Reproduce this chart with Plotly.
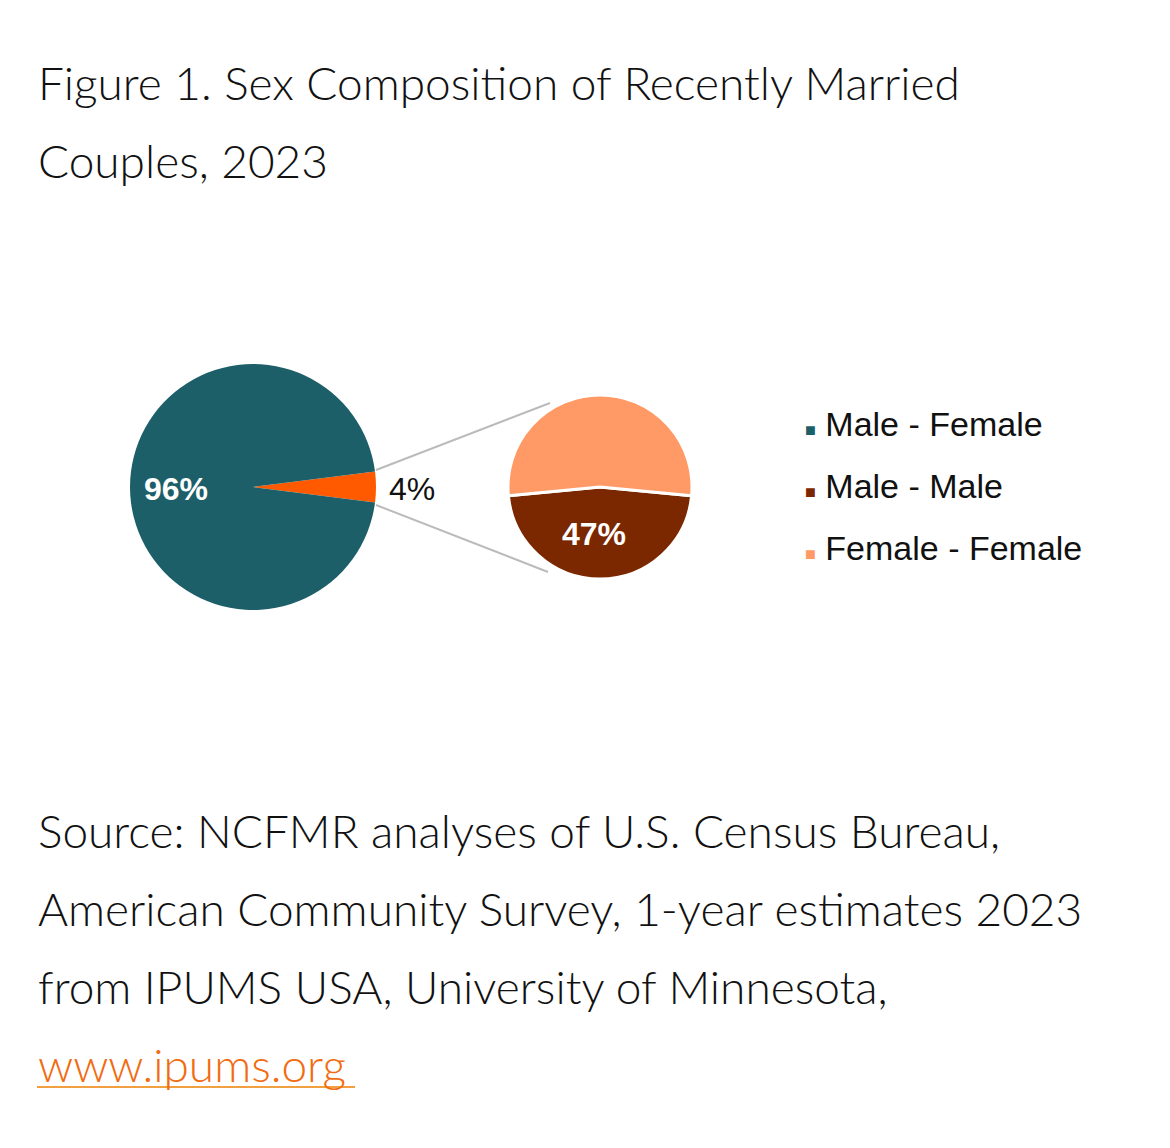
import plotly.graph_objects as go

main_labels = ["Same-sex", "Male - Female"]
main_values = [4, 96]
main_colors = ["#FF5A00", "#1D5F69"]

sub_labels = ["Male - Male", "Female - Female"]
sub_values = [47, 53]
sub_colors = ["#7B2800", "#FF9966"]

legend_labels = ["Male - Female", "Male - Male", "Female - Female"]
legend_colors = ["#1D5F69", "#7B2800", "#FF9966"]

title_lines = ["Figure 1. Sex Composition of Recently Married", "Couples, 2023"]
source_lines = ["Source: NCFMR analyses of U.S. Census Bureau,",
                "American Community Survey, 1-year estimates 2023",
                "from IPUMS USA, University of Minnesota,"]
link_text = "www.ipums.org"

W, H = 1170, 1148
# page has an 8px body margin, so shift everything back
def px(x): return (x - 8) / W
def py(y): return 1 - (y - 8) / H

fig = go.Figure()
fig.add_trace(go.Pie(labels=main_labels, values=main_values, sort=False,
                     direction="clockwise", rotation=90 - main_values[0] * 1.8,
                     marker=dict(colors=main_colors), textinfo="none", hoverinfo="label+percent",
                     domain=dict(x=[px(130), px(376)], y=[py(610), py(364)]), showlegend=False))
fig.add_trace(go.Pie(labels=sub_labels, values=sub_values, sort=False,
                     direction="clockwise", rotation=180 - sub_values[0] * 1.8,
                     marker=dict(colors=sub_colors, line=dict(color="white", width=3)),
                     textinfo="none", hoverinfo="label+percent",
                     domain=dict(x=[px(508), px(692)], y=[py(579), py(395)]), showlegend=False))

lf = dict(family="Liberation Sans, Arial", size=32, color="#111")
ann = [
    dict(x=px(176), y=py(489), text=f"<b>{main_values[1]}%</b>", font=dict(lf, color="white")),
    dict(x=px(412), y=py(489), text=f"{main_values[0]}%", font=lf),
    dict(x=px(594), y=py(534), text=f"<b>{sub_values[0]}%</b>", font=dict(lf, color="white")),
]
for i, (lab, col) in enumerate(zip(legend_labels, legend_colors)):
    ann.append(dict(x=px(803), y=py(424 + 62 * i), xanchor="left",
                    text=f"<span style='color:{col};font-size:18px'>■</span> {lab}",
                    font=dict(lf, size=34)))
tf = dict(family="Lato", size=46, color="#111", weight=300)
for i, t in enumerate(title_lines):
    ann.append(dict(x=px(36), y=py(83 + 77 * i), xanchor="left", text=t, font=tf))
for i, t in enumerate(source_lines):
    ann.append(dict(x=px(36), y=py(830 + 78 * i), xanchor="left", text=t, font=tf))
ann.append(dict(x=px(36), y=py(1064), xanchor="left", text=link_text, font=dict(tf, color="#F26B10")))
for a in ann:
    a.update(xref="paper", yref="paper", showarrow=False, yanchor="middle")
    a.setdefault("xanchor", "center")

shapes = [
    dict(type="line", x0=px(376), y0=py(470), x1=px(550), y1=py(403), line=dict(color="#BBBBBB", width=2)),
    dict(type="line", x0=px(376), y0=py(505), x1=px(548), y1=py(572), line=dict(color="#BBBBBB", width=2)),
    dict(type="line", x0=px(37), y0=py(1087), x1=px(355), y1=py(1087), line=dict(color="#F0A040", width=2)),
]
for s in shapes:
    s.update(xref="paper", yref="paper")

fig.update_layout(width=W, height=H, margin=dict(l=0, r=0, t=0, b=0),
                  paper_bgcolor="white", annotations=ann, shapes=shapes)
fig.write_html("out.html")
